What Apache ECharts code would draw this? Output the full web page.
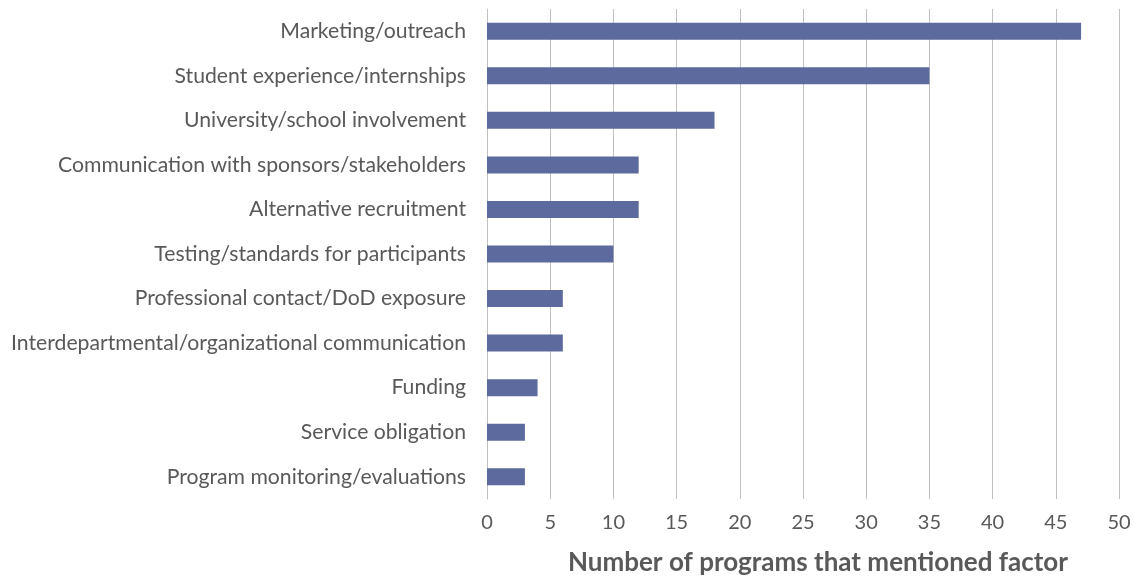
<!DOCTYPE html>
<html>
<head>
<meta charset="utf-8">
<script src="https://cdn.jsdelivr.net/npm/echarts@6/dist/echarts.min.js"></script>
<style>
  html, body { margin: 0; padding: 0; background: #ffffff; }
  #chart { width: 1135px; height: 577px; }
</style>
</head>
<body>
<div id="chart"></div>
<script>
// Factors mentioned by programs, listed top to bottom
const categories = [
  'Marketing/outreach',
  'Student experience/internships',
  'University/school involvement',
  'Communication with sponsors/stakeholders',
  'Alternative recruitment',
  'Testing/standards for participants',
  'Professional contact/DoD exposure',
  'Interdepartmental/organizational communication',
  'Funding',
  'Service obligation',
  'Program monitoring/evaluations'
];
const counts = [47, 35, 18, 12, 12, 10, 6, 6, 4, 3, 3];
const axisTitle = 'Number of programs that mentioned factor';

const chart = echarts.init(document.getElementById('chart'));
chart.setOption({
  animation: false,
  textStyle: { fontFamily: 'Lato' },
  grid: { left: 487, right: 16, top: 9, bottom: 78, containLabel: false, outerBoundsMode: 'none' },
  xAxis: {
    type: 'value',
    min: 0,
    max: 50,
    interval: 5,
    name: axisTitle,
    nameLocation: 'middle',
    nameGap: 51,
    nameTextStyle: { fontFamily: 'Lato', fontSize: 26, fontWeight: 'bold', color: '#595959', padding: [0, 0, 0, 30] },
    axisLine: { show: false },
    axisTick: { show: false },
    axisLabel: { fontFamily: 'Lato', fontSize: 20, color: '#595959', margin: 14 },
    splitLine: { show: true, lineStyle: { color: '#c0c0c0', width: 1 } }
  },
  yAxis: {
    type: 'category',
    data: categories,
    inverse: true,
    axisLine: { show: true, lineStyle: { color: '#c0c0c0' } },
    axisTick: { show: false },
    axisLabel: { fontFamily: 'Lato', fontSize: 21.2, color: '#595959', margin: 21 }
  },
  series: [{
    type: 'bar',
    data: counts,
    barWidth: 17,
    itemStyle: { color: '#5d6a9e' }
  }]
});
</script>
</body>
</html>
